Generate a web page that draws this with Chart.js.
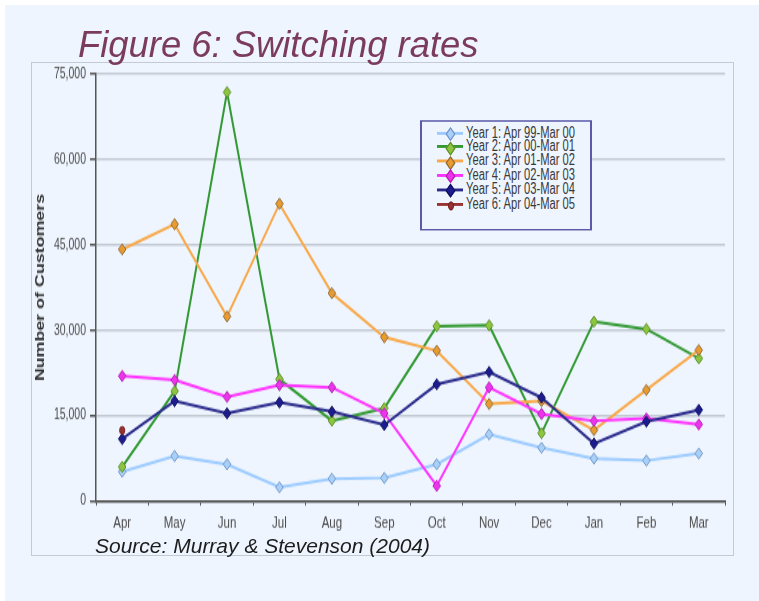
<!DOCTYPE html>
<html lang="en">
<head>
<meta charset="UTF-8">
<title>Figure 6: Switching rates</title>
<script src="https://cdn.jsdelivr.net/npm/chart.js"></script>
<style>
    body {
        margin: 0;
        background: #ffffff;
        font-family: "Liberation Sans", Arial, sans-serif;
    }
    .slide {
        position: absolute;
        left: 5px;
        top: 5px;
        width: 754px;
        height: 596px;
        background: #eef5fe;
    }
    .panel {
        position: absolute;
        left: 31px;
        top: 62px;
        width: 701px;
        height: 492px;
        border: 1px solid #c4cad3;
        background: #eef5fe;
    }
    .title {
        position: absolute;
        left: 78px;
        top: 27px;
        font-size: 36.4px;
        line-height: 36px;
        font-style: italic;
        color: #7b3b5e;
        white-space: nowrap;
        z-index: 3;
    }
    .source {
        position: absolute;
        left: 95px;
        top: 535px;
        font-size: 21px;
        line-height: 21px;
        font-style: italic;
        color: #1c1c1c;
        white-space: nowrap;
        z-index: 3;
    }
    /* the chart in the original is stretched vertically */
    .stretch {
        position: absolute;
        left: 0;
        top: 0;
        width: 759px;
        height: 414px;
        transform: scaleY(1.45);
        transform-origin: 0 0;
        z-index: 2;
    }
    .legend {
        position: absolute;
        left: 420px;
        top: 82.5px;
        width: 168px;
        height: 71px;
        border-left: 2px solid #5a5aa8;
        border-right: 2px solid #5a5aa8;
        border-top: 1.5px solid #5a5aa8;
        border-bottom: 1.5px solid #5a5aa8;
        background: #eef5fe;
        padding-top: 3px;
        box-sizing: content-box;
    }
    .legend-row {
        position: relative;
        height: 9.93px;
        line-height: 9.93px;
        font-size: 11.2px;
        color: #3a3a3a;
        padding-left: 44px;
        white-space: nowrap;
    }
    .legend-line {
        position: absolute;
        left: 15px;
        top: 4px;
        width: 26px;
        height: 2px;
    }
    .legend-mark {
        position: absolute;
        left: 25px;
        top: 2.2px;
        width: 5px;
        height: 5px;
        border: 1px solid;
        transform: rotate(45deg);
    }
</style>
</head>
<body>
<div class="slide"></div>
<div class="panel"></div>
<div class="title">Figure 6: Switching rates</div>
<div class="stretch">
    <canvas id="switchChart" width="759" height="414"></canvas>
    <div class="legend" id="legend"></div>
</div>
<div class="source">Source: Murray &amp; Stevenson (2004)</div>

<script>
    // months of the year (Apr - Mar)
    const months = ['Apr', 'May', 'Jun', 'Jul', 'Aug', 'Sep', 'Oct', 'Nov', 'Dec', 'Jan', 'Feb', 'Mar'];

    const seriesNames = [
        'Year 1: Apr 99-Mar 00',
        'Year 2: Apr 00-Mar 01',
        'Year 3: Apr 01-Mar 02',
        'Year 4: Apr 02-Mar 03',
        'Year 5: Apr 03-Mar 04',
        'Year 6: Apr 04-Mar 05'
    ];

    // number of customers switching
    const year1 = [5150, 7900, 6450, 2400, 3900, 4050, 6450, 11700, 9350, 7450, 7100, 8350];
    const year2 = [6000, 19300, 71800, 21400, 14100, 16300, 30700, 30850, 11900, 31500, 30200, 25050];
    const year3 = [44200, 48600, 32400, 52200, 36500, 28750, 26400, 17050, 17550, 12450, 19500, 26500];
    const year4 = [21950, 21250, 18300, 20350, 19950, 15400, 2650, 19950, 15300, 14050, 14500, 13450];
    const year5 = [10900, 17550, 15400, 17300, 15700, 13350, 20500, 22650, 18150, 10100, 13950, 16000];
    const year6 = [12400, null, null, null, null, null, null, null, null, null, null, null];

    const yTicks = [0, 15000, 30000, 45000, 60000, 75000];

    const lineColors = ['#9ccbff', '#339933', '#f8a848', '#ff33ff', '#2b2b8c', '#993333'];
    const markFill = ['#a9d1f7', '#8cc63f', '#e99b30', '#ee33ee', '#1c1c90', '#993333'];
    const markEdge = ['#6e93c8', '#5d8c2a', '#8a6a3c', '#b020b0', '#10105a', '#7a2020'];
    const markShape = ['rectRot', 'rectRot', 'rectRot', 'rectRot', 'rectRot', 'circle'];

    const allYears = [year1, year2, year3, year4, year5, year6];

    const datasets = allYears.map(function(values, i) {
        return {
            label: seriesNames[i],
            data: values,
            borderColor: lineColors[i],
            borderWidth: 2,
            backgroundColor: markFill[i],
            pointBackgroundColor: markFill[i],
            pointBorderColor: markEdge[i],
            pointBorderWidth: 1,
            pointStyle: markShape[i],
            pointRadius: i === 5 ? 2.6 : 3.8,
            tension: 0,
            spanGaps: false,
            order: allYears.length - i // later years on top, like Excel
        };
    });

    const ctx = document.getElementById('switchChart').getContext('2d');
    const switchChart = new Chart(ctx, {
        type: 'line',
        data: {
            labels: months,
            datasets: datasets
        },
        options: {
            responsive: false,
            animation: false,
            layout: {
                padding: { left: 30, top: 51, right: 34, bottom: 38.5 }
            },
            plugins: {
                legend: { display: false },
                tooltip: { enabled: false }
            },
            scales: {
                x: {
                    offset: true,
                    afterFit: function(scale) { scale.height = 30; },
                    grid: {
                        offset: true,
                        drawOnChartArea: false,
                        drawTicks: true,
                        tickLength: 3,
                        color: '#444444',
                        lineWidth: 1
                    },
                    border: { color: '#444444', width: 1.5 },
                    ticks: {
                        color: '#4a4a4a',
                        padding: 5,
                        font: { family: '"Liberation Sans", Arial, sans-serif', size: 11.5 },
                        maxRotation: 0
                    }
                },
                y: {
                    min: 0,
                    max: 75000,
                    afterFit: function(scale) { scale.width = 66; },
                    afterBuildTicks: function(scale) {
                        scale.ticks = yTicks.map(function(v) { return { value: v }; });
                    },
                    grid: {
                        color: '#c3cad3',
                        lineWidth: 1.5,
                        tickColor: '#555555',
                        tickLength: 6
                    },
                    border: { color: '#555555', width: 1.5 },
                    ticks: {
                        color: '#4a4a4a',
                        padding: 4,
                        font: { family: '"Liberation Sans", Arial, sans-serif', size: 10.5 },
                        callback: function(value) {
                            return value.toLocaleString('en-US');
                        }
                    },
                    title: {
                        display: true,
                        text: 'Number of Customers',
                        color: '#333333',
                        padding: { top: 3, bottom: 0 },
                        font: { family: '"Liberation Sans", Arial, sans-serif', size: 12.3, weight: 'bold' }
                    }
                }
            }
        }
    });

    // legend box, drawn as html from the same series lists
    const legend = document.getElementById('legend');
    seriesNames.forEach(function(name, i) {
        const row = document.createElement('div');
        row.className = 'legend-row';
        const line = document.createElement('span');
        line.className = 'legend-line';
        line.style.background = lineColors[i];
        const mark = document.createElement('span');
        mark.className = 'legend-mark';
        mark.style.background = markFill[i];
        mark.style.borderColor = markEdge[i];
        if (markShape[i] === 'circle') {
            mark.style.borderRadius = '50%';
            mark.style.width = '4px';
            mark.style.height = '4px';
            mark.style.left = '26px';
            mark.style.top = '2.5px';
        }
        row.appendChild(line);
        row.appendChild(mark);
        row.appendChild(document.createTextNode(name));
        legend.appendChild(row);
    });
</script>
</body>
</html>
